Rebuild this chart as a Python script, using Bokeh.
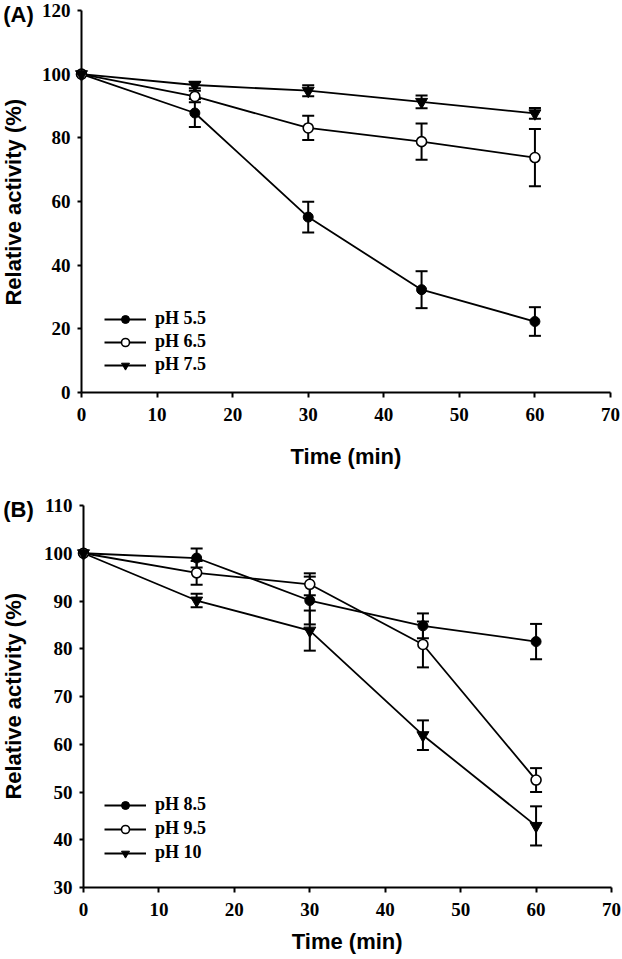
import math
from bokeh.plotting import figure
from bokeh.layouts import column
from bokeh.models import ColumnDataSource, Whisker, TeeHead, Legend, LegendItem, Label
from bokeh.embed import file_html
from bokeh.resources import INLINE

# ---------------- data ----------------
time_min = [0, 15, 30, 45, 60]
x_ticks = [0, 10, 20, 30, 40, 50, 60, 70]

a_labels = ["pH 5.5", "pH 6.5", "pH 7.5"]
a_ph55 = [100, 87.8, 55.1, 32.3, 22.3]
a_ph55_err = [0, 4.4, 4.8, 5.8, 4.5]
a_ph65 = [100, 93.0, 83.1, 78.8, 73.8]
a_ph65_err = [0, 1.8, 3.8, 5.7, 9.0]
a_ph75 = [100, 96.6, 94.8, 91.3, 87.7]
a_ph75_err = [0, 1.0, 1.7, 2.0, 1.7]
a_yticks = [0, 20, 40, 60, 80, 100, 120]

b_labels = ["pH 8.5", "pH 9.5", "pH 10"]
b_ph85 = [100, 99.0, 90.1, 84.8, 81.5]
b_ph85_err = [0, 2.0, 5.0, 2.6, 3.7]
b_ph95 = [100, 95.9, 93.5, 80.9, 52.5]
b_ph95_err = [0, 2.5, 2.3, 4.8, 2.5]
b_ph10 = [100, 90.1, 83.8, 61.9, 42.9]
b_ph10_err = [0, 1.4, 4.2, 3.1, 4.1]
b_yticks = [30, 40, 50, 60, 70, 80, 90, 100, 110]

x_title = "Time (min)"
y_title = "Relative activity (%)"

STYLES = [
    dict(marker="circle", size=10, fill_color="black", line_color="black", line_width=1),
    dict(marker="circle", size=10, fill_color="white", line_color="black", line_width=1.6),
    dict(marker="inverted_triangle", size=12, fill_color="black", line_color="black", line_width=1),
]

TICK_FONT = "Liberation Serif"
LABEL_FONT = "Liberation Sans"
W = 622


def text_label(x, y, text, size="22px", angle=0.0, align="left"):
    return Label(x=x, y=y, x_units="screen", y_units="screen", text=text,
                 text_font=LABEL_FONT, text_font_style="bold", text_font_size=size,
                 text_color="black", text_baseline="middle", text_align=align,
                 angle=angle)


def make_panel(series, labels, yticks, fig_h, ax_left, ax_right, y_top_px, y_bot_px,
               tag, tag_mid, ylab_x, ylab_center, xlab_x, xlab_mid, legend_loc,
               legend_spacing):
    """Frame covers the whole canvas; axes are drawn at fixed data locations.
    Pixel arguments are canvas pixels measured from the top-left."""
    x0, x1 = x_ticks[0], x_ticks[-1]
    y0, y1 = yticks[0], yticks[-1]
    px_x = (ax_right - ax_left) / (x1 - x0)
    px_y = (y_bot_px - y_top_px) / (y1 - y0)
    p = figure(width=W, height=fig_h, output_backend="svg", toolbar_location=None,
               x_range=(x0 - ax_left / px_x, x1 + (W - ax_right) / px_x),
               y_range=(y0 - (fig_h - y_bot_px) / px_y, y1 + y_top_px / px_y),
               min_border=0, min_border_top=0, min_border_left=0,
               min_border_right=0, min_border_bottom=0)
    p.outline_line_color = None
    p.xgrid.visible = False
    p.ygrid.visible = False
    p.background_fill_color = "white"
    p.border_fill_color = "white"

    for ax in (p.xaxis[0], p.yaxis[0]):
        ax.axis_line_width = 2
        ax.axis_line_color = "black"
        ax.major_tick_line_width = 2
        ax.major_tick_line_color = "black"
        ax.major_tick_in = 0
        ax.minor_tick_line_color = None
        ax.major_label_text_font = TICK_FONT
        ax.major_label_text_font_style = "bold"
        ax.major_label_text_font_size = "19px"
        ax.major_label_text_color = "black"

    p.xaxis.ticker = x_ticks
    p.yaxis.ticker = yticks
    p.xaxis.bounds = (x0, x1)
    p.yaxis.bounds = (y0, y1)
    p.xaxis.fixed_location = y0
    p.yaxis.fixed_location = x0
    p.xaxis.major_tick_out = 5
    p.yaxis.major_tick_out = 4
    p.xaxis.major_label_standoff = 10
    p.yaxis.major_label_standoff = 7

    # error bars (under markers)
    for vals, errs in series:
        xs = [t for t, e in zip(time_min, errs) if e > 0]
        up = [v + e for v, e in zip(vals, errs) if e > 0]
        lo = [v - e for v, e in zip(vals, errs) if e > 0]
        src = ColumnDataSource(dict(x=xs, upper=up, lower=lo))
        w = Whisker(source=src, base="x", upper="upper", lower="lower",
                    line_width=2, line_color="black", level="underlay",
                    upper_head=TeeHead(size=12, line_width=2, line_color="black"),
                    lower_head=TeeHead(size=12, line_width=2, line_color="black"))
        p.add_layout(w)

    line_rs = []
    for vals, errs in series:
        line_rs.append(p.line(time_min, vals, line_color="black", line_width=1.8))
    mark_rs = []
    for (vals, errs), st in zip(series, STYLES):
        mark_rs.append(p.scatter(time_min, vals, **st))

    items = [LegendItem(label=lab, renderers=[lr, mr])
             for lab, lr, mr in zip(labels, line_rs, mark_rs)]
    leg = Legend(items=items, location=legend_loc, border_line_color=None,
                 background_fill_alpha=0, padding=0, margin=0, spacing=legend_spacing,
                 glyph_width=42, glyph_height=20, label_height=20, label_standoff=9,
                 label_text_font=TICK_FONT, label_text_font_style="bold",
                 label_text_font_size="18px", label_text_color="black")
    p.add_layout(leg)

    # screen units: origin at bottom-left of the frame (= canvas)
    p.add_layout(text_label(2.7, fig_h - tag_mid, tag))
    p.add_layout(text_label(ylab_x, fig_h - ylab_center, y_title,
                            angle=math.pi / 2, align="center"))
    p.add_layout(text_label(xlab_x, fig_h - xlab_mid, x_title, align="center"))
    return p


pa = make_panel([(a_ph55, a_ph55_err), (a_ph65, a_ph65_err), (a_ph75, a_ph75_err)],
                a_labels, a_yticks, fig_h=480, ax_left=81, ax_right=610,
                y_top_px=10, y_bot_px=392, tag="(A)", tag_mid=14,
                ylab_x=13, ylab_center=201.7, xlab_x=345.4, xlab_mid=455.8,
                legend_loc=(104, 105), legend_spacing=2)
pb = make_panel([(b_ph85, b_ph85_err), (b_ph95, b_ph95_err), (b_ph10, b_ph10_err)],
                b_labels, b_yticks, fig_h=479, ax_left=83, ax_right=611,
                y_top_px=25, y_bot_px=407, tag="(B)", tag_mid=29.3,
                ylab_x=13, ylab_center=215.8, xlab_x=346.7, xlab_mid=461.3,
                legend_loc=(104, 96), legend_spacing=3)

layout = column(pa, pb, spacing=0)
open("out.html", "w").write(file_html(layout, INLINE))
